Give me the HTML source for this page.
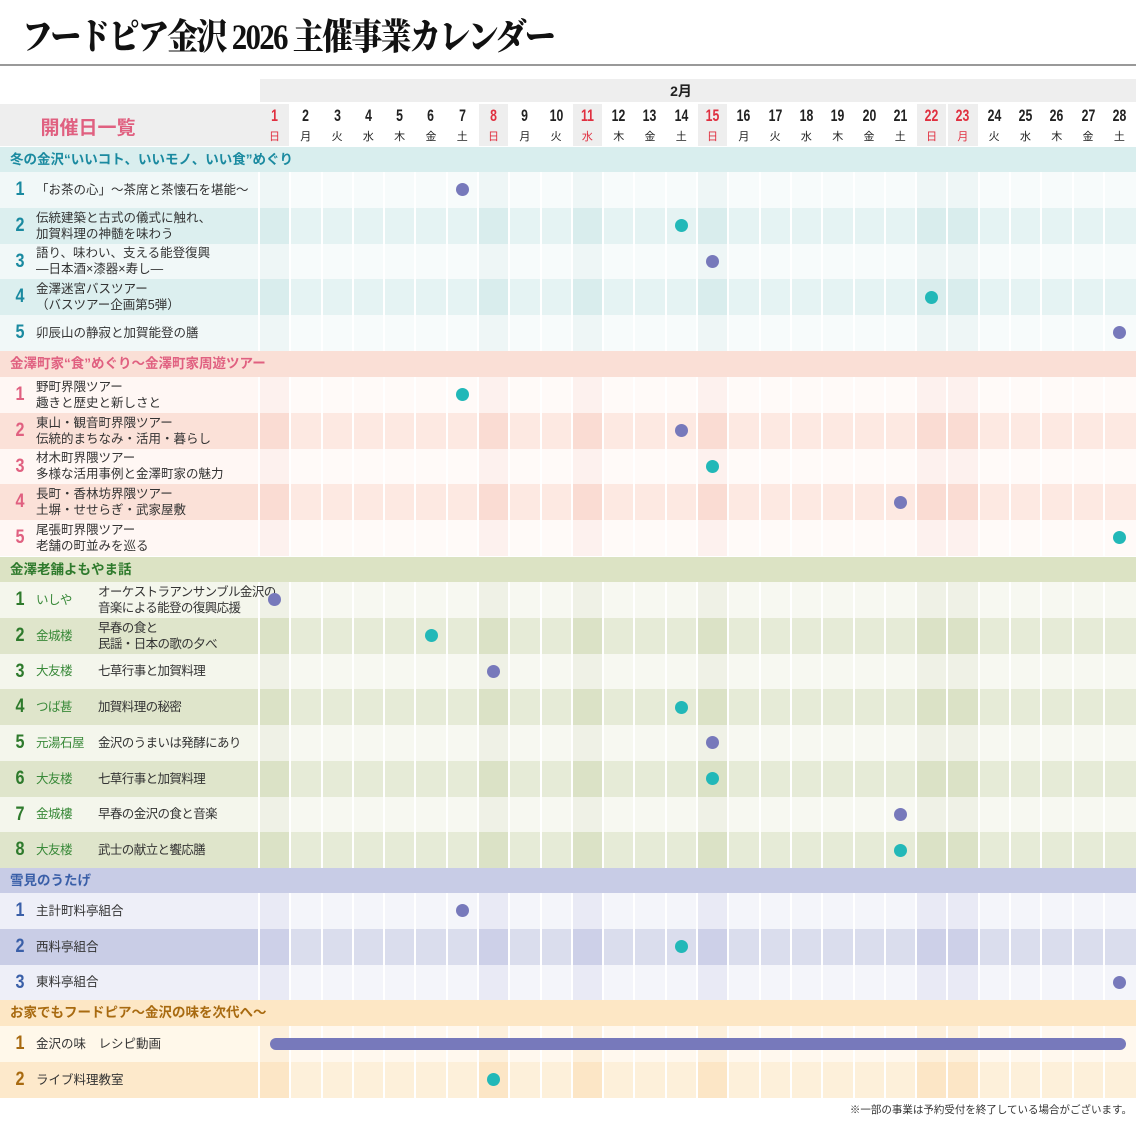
<!DOCTYPE html>
<html><head><meta charset="utf-8">
<style>
*{margin:0;padding:0;box-sizing:border-box}
body{width:1136px;height:1121px;background:#fff;position:relative;overflow:hidden;font-family:"Liberation Sans","Noto Sans CJK JP",sans-serif}
div{position:absolute}
.t{font-size:12.5px;color:#333;line-height:16px;white-space:nowrap}
.num{font-weight:bold;font-size:19px;width:20px;text-align:center;left:10px;transform:scaleX(0.85)}
.dn{font-weight:bold;font-size:17px;font-family:"Liberation Sans",sans-serif;transform:scaleX(0.72);text-align:center;width:31px}
.wd{font-size:11px;text-align:center;width:31px}
.dot{width:13px;height:13px;border-radius:50%}
</style></head><body>
<div style="left:22px;top:14px;font-family:'Liberation Serif','Noto Serif CJK SC',serif;font-weight:900;font-size:36px;line-height:46px;color:#111;white-space:nowrap;letter-spacing:-2px;transform:scaleX(0.86);transform-origin:left">フードピア金沢 2026 主催事業カレンダー</div>
<div style="left:0;top:64px;width:1136px;height:2px;background:#999"></div>
<div style="left:260px;top:79px;width:876px;height:23px;background:#eee"></div>
<div style="left:660px;top:80px;width:42px;text-align:center;font-weight:bold;font-size:14px;line-height:22px;color:#222">2月</div>
<div style="left:0;top:104px;width:260px;height:42px;background:#eee"></div>
<div style="left:0;top:113px;width:176px;text-align:center;font-weight:bold;font-size:19px;color:#e06080">開催日一覧</div>
<div style="right:4px;top:1102px;font-size:10.5px;color:#333;white-space:nowrap">※一部の事業は予約受付を終了している場合がございます。</div>
<script>
const B=document.body;
function el(h){B.insertAdjacentHTML('beforeend',h);}
const W=31.29,X0=260;
const red=[1,8,11,15,22,23];
const wk="日月火水木金土";
for(let d=1;d<=28;d++){
 const x=X0+(d-1)*W, r=red.includes(d);
 if(r) el(`<div style="left:${x}px;top:104px;width:${W-2}px;height:42px;background:#eee"></div>`);
 const c=r?'#e03040':'#222';
 el(`<div class="dn" style="left:${x-1}px;top:106px;color:${c}">${d}</div>`);
 el(`<div class="wd" style="left:${x-1}px;top:128px;color:${c}">${wk[(d-1)%7]}</div>`);
}
const S=[
 {top:147,h:25,title:'冬の金沢“いいコト、いいモノ、いい食”めぐり',hc:'#d9eeee',tc:'#1a8aa0',
  o:['#f1f8f8','#f7fbfb','#eef6f6'],e:['#dcefef','#e5f3f3','#d9eded'],
  rows:[[['「お茶の心」～茶席と茶懐石を堪能～'],7,'p'],[['伝統建築と古式の儀式に触れ、','加賀料理の神髄を味わう'],14,'t'],[['語り、味わい、支える能登復興','―日本酒×漆器×寿し―'],15,'p'],[['金澤迷宮バスツアー','（バスツアー企画第5弾）'],22,'t'],[['卯辰山の静寂と加賀能登の膳'],28,'p']]},
 {top:351,h:26,title:'金澤町家“食”めぐり～金澤町家周遊ツアー',hc:'#fadfd6',tc:'#e06080',
  o:['#fff7f4','#fffaf8','#fdf1ee'],e:['#fbe1d8','#fde9e2','#fadcd3'],
  rows:[[['野町界隈ツアー','趣きと歴史と新しさと'],7,'t'],[['東山・観音町界隈ツアー','伝統的まちなみ・活用・暮らし'],14,'p'],[['材木町界隈ツアー','多様な活用事例と金澤町家の魅力'],15,'t'],[['長町・香林坊界隈ツアー','土塀・せせらぎ・武家屋敷'],21,'p'],[['尾張町界隈ツアー','老舗の町並みを巡る'],28,'t']]},
 {top:557,h:25,title:'金澤老舗よもやま話',hc:'#dce3c4',tc:'#2e7a2c',
  o:['#f4f6ec','#f7f8f1','#eff1e6'],e:['#dfe5cb','#e6ebd7','#dbe2c6'],shop:true,
  rows:[[['オーケストラアンサンブル金沢の','音楽による能登の復興応援'],1,'p','いしや'],[['早春の食と','民謡・日本の歌の夕べ'],6,'t','金城楼'],[['七草行事と加賀料理'],8,'p','大友楼'],[['加賀料理の秘密'],14,'t','つば甚'],[['金沢のうまいは発酵にあり'],15,'p','元湯石屋'],[['七草行事と加賀料理'],15,'t','大友楼'],[['早春の金沢の食と音楽'],21,'p','金城樓'],[['武士の献立と饗応膳'],21,'t','大友楼']]},
 {top:868,h:25,title:'雪見のうたげ',hc:'#c8cce6',tc:'#3a5fa8',
  o:['#eeeff8','#f4f5fa','#e9eaf5'],e:['#c9cde6','#dadded','#cdd0e8'],
  rows:[[['主計町料亭組合'],7,'p'],[['西料亭組合'],14,'t'],[['東料亭組合'],28,'p']]},
 {top:1000,h:26,title:'お家でもフードピア～金沢の味を次代へ～',hc:'#fde7c5',tc:'#a86a10',
  o:['#fff8ea','#fff8ee','#fdf0dc'],e:['#fde9cb','#fdf0da','#fce6c6'],
  rows:[[['金沢の味　レシピ動画'],0,'bar'],[['ライブ料理教室'],8,'t']]}
];
const RH=35.75;
S.forEach(s=>{
 el(`<div style="left:0;top:${s.top}px;width:1136px;height:${s.h}px;background:${s.hc}"></div>`);
 el(`<div style="left:10px;top:${s.top}px;line-height:${s.h}px;font-weight:bold;font-size:13.5px;color:${s.tc};white-space:nowrap">${s.title}</div>`);
 s.rows.forEach((r,i)=>{
  const y=s.top+s.h+i*RH, c=i%2?s.e:s.o;
  el(`<div style="left:0;top:${y}px;width:258px;height:${RH+0.5}px;background:${c[0]}"></div>`);
  for(let d=1;d<=28;d++){
   const x=X0+(d-1)*W;
   el(`<div style="left:${x}px;top:${y}px;width:${d==28?W:W-2}px;height:${RH+0.5}px;background:${red.includes(d)?c[2]:c[1]}"></div>`);
  }
  el(`<div class="num" style="top:${y+7}px;color:${s.tc}">${i+1}</div>`);
  const lines=r[0],tx=s.shop?98:36;
  const ty=y+RH/2-lines.length*8;
  el(`<div class="t" style="left:${tx}px;top:${ty}px;${s.shop?'letter-spacing:-0.6px;':''}">${lines.join('<br>')}</div>`);
  if(s.shop) el(`<div class="t" style="left:36px;top:${y+RH/2-8}px;color:#3a8a3a;letter-spacing:-0.5px">${r[3]}</div>`);
  const cy=y+RH/2;
  if(r[2]=='bar') el(`<div style="left:270px;top:${cy-6}px;width:856px;height:12px;border-radius:6px;background:#7779bb"></div>`);
  else{
   const cx=X0+(r[1]-1)*W+14.6;
   el(`<div class="dot" style="left:${cx-6.5}px;top:${cy-6.5}px;background:${r[2]=='p'?'#7779bb':'#22b8b8'}"></div>`);
  }
 });
});
</script>
</body></html>
